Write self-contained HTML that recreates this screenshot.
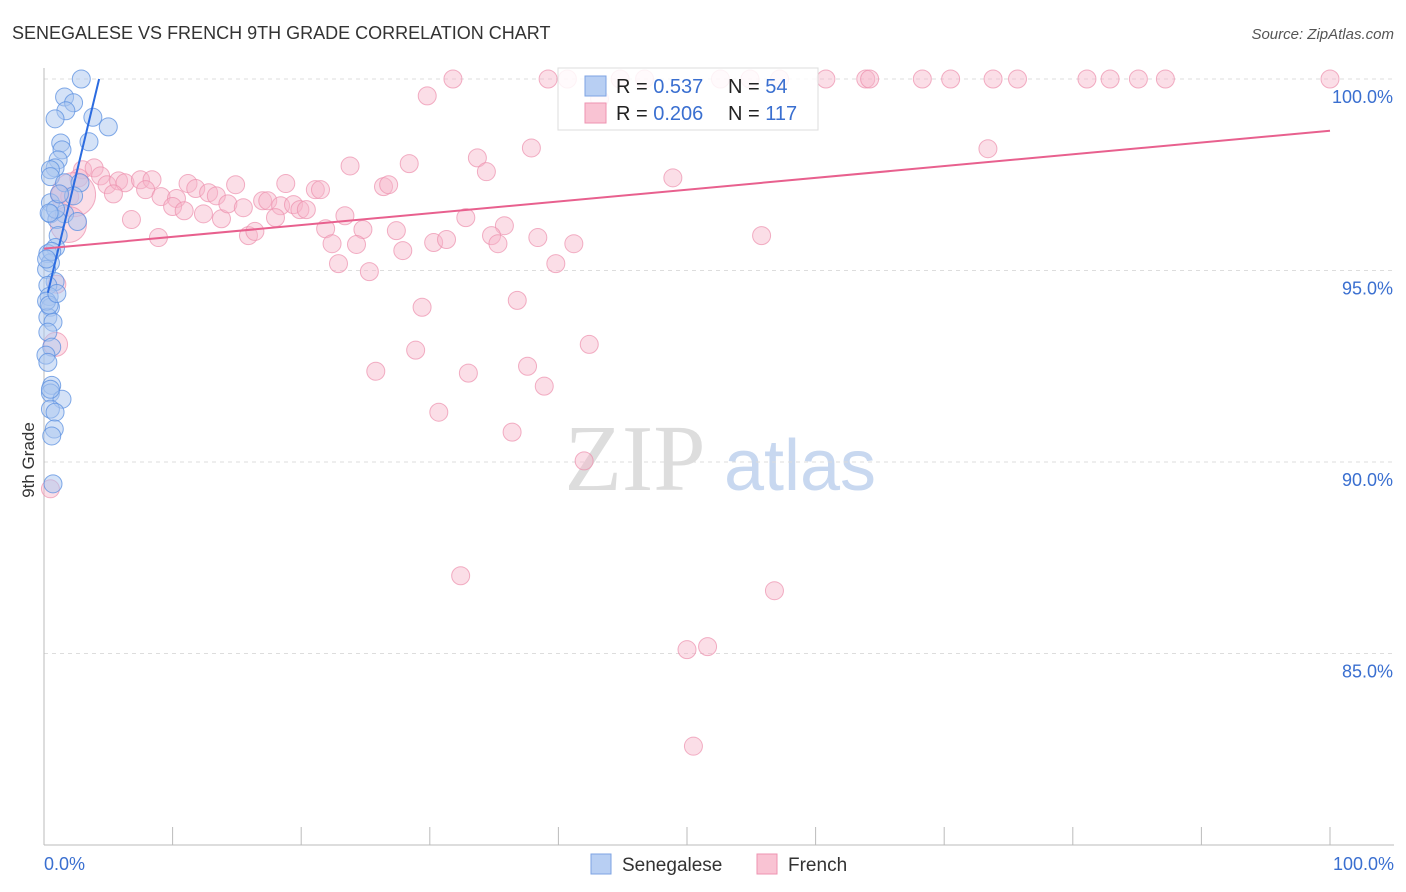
<!DOCTYPE html>
<html><head><meta charset="utf-8">
<style>
body{margin:0;background:#fff;font-family:"Liberation Sans",sans-serif;}
#wrap{position:relative;width:1406px;height:892px;overflow:hidden;}
svg{position:absolute;left:0;top:0;}
</style></head>
<body><div id="wrap">
<svg id="c" width="1406" height="892">
<text x="12" y="39" font-size="18" fill="#333">SENEGALESE VS FRENCH 9TH GRADE CORRELATION CHART</text>
<text x="1394" y="39" font-size="15" fill="#555" text-anchor="end" font-style="italic">Source: ZipAtlas.com</text>
<text x="34" y="460" font-size="17" fill="#333" text-anchor="middle" transform="rotate(-90 34 460)">9th Grade</text>
<g>
<text x="635" y="490" font-size="94" font-family="Liberation Serif,serif" fill="#ddd" text-anchor="middle">ZIP</text>
<text x="800" y="490" font-size="72" fill="#c8d8f0" text-anchor="middle">atlas</text>
</g>
<g id="grid"></g><g id="axes"></g><g id="pts"></g><g id="lines"></g>
<g>
<rect x="558" y="68" width="260" height="62" fill="#fff" fill-opacity="0.85" stroke="#ddd"/>
<rect x="585" y="76" width="21" height="20" fill="#b8cff3" stroke="#7ea3e3"/>
<text x="616" y="93" font-size="20" fill="#222">R = <tspan fill="#3a6fd0">0.537</tspan><tspan x="728">N = </tspan><tspan fill="#3a6fd0">54</tspan></text>
<rect x="585" y="103" width="21" height="20" fill="#f9c3d3" stroke="#ee93b0"/>
<text x="616" y="120" font-size="20" fill="#222">R = <tspan fill="#3a6fd0">0.206</tspan><tspan x="728">N = </tspan><tspan fill="#3a6fd0">117</tspan></text>
</g>
<g>
<rect x="591" y="854" width="20" height="20" fill="#b8cff3" stroke="#7ea3e3"/>
<text x="622" y="871" font-size="19" fill="#333">Senegalese</text>
<rect x="757" y="854" width="20" height="20" fill="#f9c3d3" stroke="#ee93b0"/>
<text x="788" y="871" font-size="19" fill="#333">French</text>
</g>
</svg>
<script>
const yTicks=[100,95,90,85];
const yTickLabels=["100.0%","95.0%","90.0%","85.0%"];
const xTickLabels=["0.0%","100.0%"];
const blueX=[2.9,1.6,2.3,1.7,0.86,3.8,5.0,3.5,1.3,1.4,1.1,0.86,0.5,0.5,1.6,2.8,2.3,0.5,0.5,1.6,1.0,2.6,1.1,0.9,0.3,0.5,0.2,0.86,0.3,0.4,0.5,0.3,0.7,0.3,0.6,0.15,0.6,0.5,1.4,0.5,0.86,0.8,0.6,0.7,0.2,0.4,0.9,1.2,0.3,0.6,0.4,1.0,0.2,0.5];
const blueY=[100,99.53,99.38,99.17,98.96,99.0,98.75,98.36,98.33,98.15,97.89,97.68,97.63,97.45,97.29,97.29,96.95,96.77,96.48,96.48,96.33,96.28,95.91,95.6,95.44,95.2,95.03,94.71,94.61,94.32,94.04,93.78,93.65,93.39,93.0,92.79,92.0,91.8,91.64,91.38,91.3,90.86,90.68,89.43,94.2,94.1,96.6,97.0,92.6,95.5,96.5,94.4,95.3,91.9];
const pinkX=[31.8,39.2,40.7,44.8,46.7,52.6,54.9,57.2,60.8,63.9,64.2,68.3,70.5,73.8,75.7,81.1,82.9,85.1,87.2,100,29.8,43.2,37.9,73.4,33.7,23.8,28.4,34.4,48.9,3.0,3.9,4.4,2.7,4.9,5.8,6.3,7.5,8.4,7.9,9.1,10.3,11.2,11.8,12.8,13.4,14.9,18.8,21.1,21.5,26.4,26.8,1.2,2.0,5.4,10.0,10.9,12.4,13.8,14.3,15.5,17.0,17.4,18.4,19.4,19.9,20.4,6.8,15.9,16.4,18.0,21.9,23.4,24.8,27.4,32.8,35.8,8.9,22.4,24.3,27.9,30.3,31.3,34.8,35.3,38.4,41.2,55.8,22.9,25.3,39.8,36.8,29.4,28.9,42.4,25.8,33.0,37.6,38.9,30.7,36.4,42.0,32.4,56.8,50.0,51.6,50.5,0.5,1.0,0.9,2.3,1.9];
const pinkY=[100,100,100,100,100,100,100,100,100,100,100,100,100,100,100,100,100,100,100,100,99.56,99.48,98.2,98.18,97.94,97.73,97.79,97.58,97.42,97.63,97.68,97.47,97.42,97.24,97.34,97.29,97.37,97.37,97.11,96.93,96.88,97.27,97.14,97.03,96.95,97.24,97.27,97.11,97.11,97.19,97.24,96.98,96.93,97.0,96.67,96.56,96.48,96.35,96.74,96.64,96.82,96.82,96.69,96.72,96.59,96.59,96.33,95.91,96.02,96.38,96.09,96.43,96.07,96.04,96.38,96.17,95.86,95.7,95.68,95.52,95.73,95.81,95.91,95.7,95.86,95.7,95.91,95.18,94.97,95.18,94.22,94.04,92.92,93.07,92.37,92.32,92.5,91.98,91.3,90.78,90.03,87.03,86.64,85.1,85.18,82.58,89.3,94.64,93.07,96.98,96.2];
const pinkBig=[108,109,110,111,112];
const pinkBigR=[12,22,18,14,12];
const blueTrend=[94.0,1.4];   // intercept, slope
const pinkTrend=[95.57,0.0308];
const X0=44,X1=1330,YT=79,YB=845;
const sx=v=>X0+(X1-X0)*v/100;
const sy=v=>YT+(100-v)*(YB-YT)/20;
const NS="http://www.w3.org/2000/svg";
function mk(t,a,p){const e=document.createElementNS(NS,t);for(const k in a)e.setAttribute(k,a[k]);p.appendChild(e);return e;}
const grid=document.getElementById('grid'),axes=document.getElementById('axes'),pts=document.getElementById('pts'),lines=document.getElementById('lines');
yTicks.forEach((t,i)=>{
 const l=mk('line',{x1:X0,x2:1394,y1:sy(t),y2:sy(t),stroke:'#ddd','stroke-dasharray':'4,4'},grid);
 
 
 const tx=mk('text',{x:1393,y:sy(t)+24,'font-size':18,fill:'#3a6fd0','text-anchor':'end'},axes);
 tx.textContent=yTickLabels[i];
 
 
});
const ya=mk('line',{x1:X0,x2:X0,y1:68,y2:YB,stroke:'#bbb'},axes);


const xa=mk('line',{x1:X0,x2:1394,y1:YB,y2:YB,stroke:'#bbb'},axes);


for(let i=0;i<=10;i++){
 const tk=mk('line',{x1:sx(i*10),x2:sx(i*10),y1:827,y2:YB,stroke:'#bbb'},axes);
 
 
}
[[0,'start',44],[100,'end',1394]].forEach((d,i)=>{
 const tx=mk('text',{x:d[2],y:870,'font-size':18,fill:'#3a6fd0','text-anchor':d[1]},axes);
 tx.textContent=xTickLabels[i];
 
 
});
pinkX.forEach((x,i)=>{
 const bi=pinkBig.indexOf(i);
 const c=mk('circle',{cx:sx(x),cy:sy(pinkY[i]),r:bi>=0?pinkBigR[bi]:9,fill:'#f7b6c9','fill-opacity':0.45,stroke:'#ec8fad','stroke-opacity':0.7},pts);
 
 
});
blueX.forEach((x,i)=>{
 const c=mk('circle',{cx:sx(x),cy:sy(blueY[i]),r:9,fill:'#a9c5f0','fill-opacity':0.5,stroke:'#5a8fe0','stroke-opacity':0.75},pts);
 
 
});
const bx2=(100-blueTrend[0])/blueTrend[1];
const bl=mk('line',{x1:sx(0.3),y1:sy(blueTrend[0]+blueTrend[1]*0.3),x2:sx(bx2),y2:sy(100),stroke:'#2b6be0','stroke-width':2},lines);


const pl=mk('line',{x1:sx(0),y1:sy(pinkTrend[0]),x2:sx(100),y2:sy(pinkTrend[0]+pinkTrend[1]*100),stroke:'#e8608e','stroke-width':2},lines);


</script>
</div></body></html>
